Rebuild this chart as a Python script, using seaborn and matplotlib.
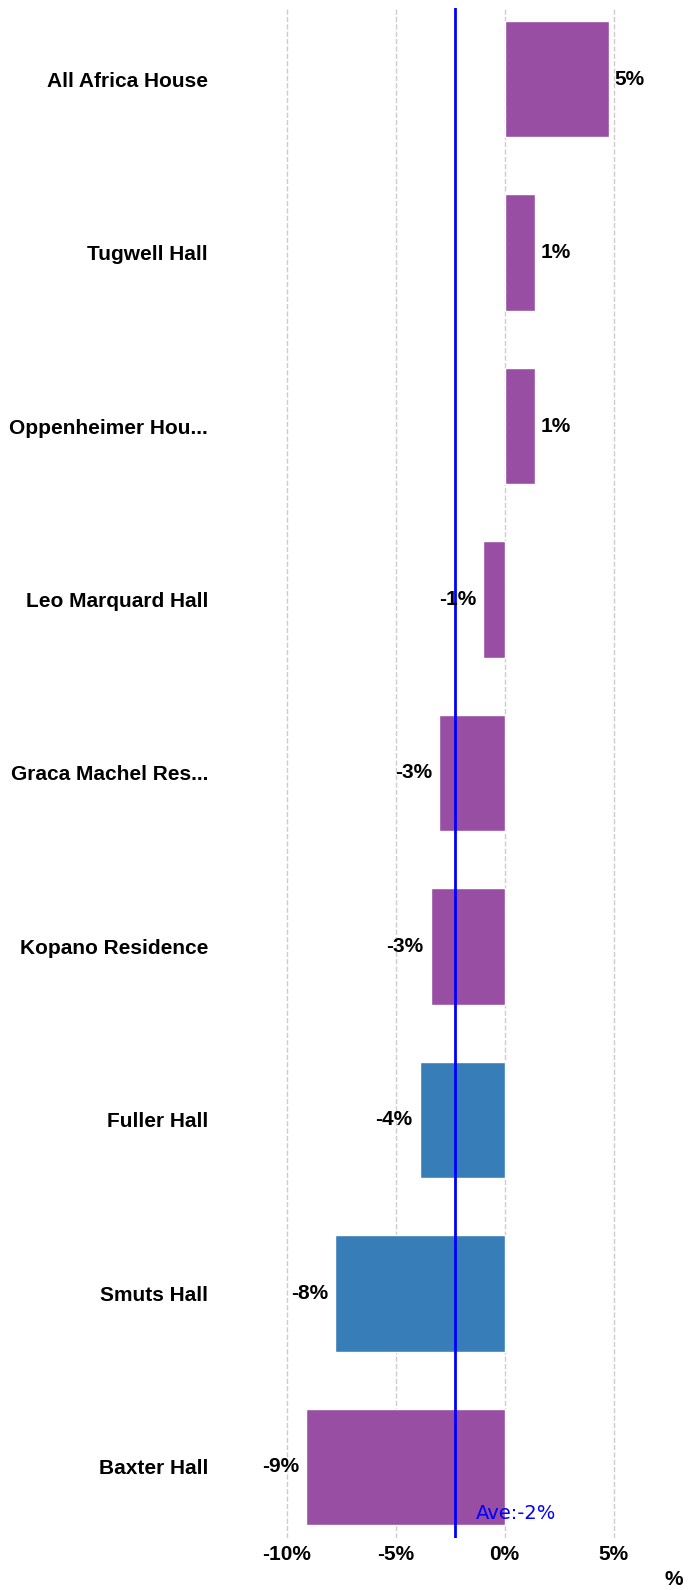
import pandas as pd
import matplotlib.pyplot as plt
import seaborn as sns

residences = ["All Africa House", "Tugwell Hall", "Oppenheimer Hou...", "Leo Marquard Hall",
              "Graca Machel Res...", "Kopano Residence", "Fuller Hall", "Smuts Hall", "Baxter Hall"]
change_pct = [4.8, 1.4, 1.4, -1.0, -3.0, -3.4, -3.9, -7.8, -9.1]
group = ["a", "a", "a", "a", "a", "a", "b", "b", "a"]
colors = {"a": "#984EA3", "b": "#377EB8"}
ticks = [-10, -5, 0, 5]

df = pd.DataFrame({"name": residences, "pct": change_pct, "group": group})
avg = df["pct"].mean()

sns.set_theme(style="white")
plt.rcParams["font.family"] = ["Liberation Sans", "DejaVu Sans"]

fig = plt.figure(figsize=(6.88, 15.9), dpi=100)
ax = fig.add_axes([0.3125, 0.0327, 0.6805, 0.9623])

sns.barplot(data=df, x="pct", y="name", hue="group", palette=colors, dodge=False,
            width=0.67, saturation=1, legend=False, ax=ax, zorder=2)

for i, v in enumerate(df["pct"]):
    off = 4 if v >= 0 else -5
    ax.annotate(f"{v:.0f}%", (v, i), xytext=(off, 0), textcoords="offset points",
                ha="left" if v >= 0 else "right", va="center",
                fontsize=15, fontweight="bold", color="black", zorder=4)

ax.axvline(avg, color="blue", lw=2, zorder=3)
ax.text(avg + 0.95, 8.27, f"Ave:{avg:.0f}%", color="blue", fontsize=14,
        family="DejaVu Sans", ha="left", va="center", zorder=4)

ax.set_xlim(-13.3, 8.2)
ax.set_ylim(8.41, -0.41)
ax.set_xticks(ticks)
ax.set_xticklabels([f"{t}%" for t in ticks], fontsize=15, fontweight="bold", color="black")
ax.grid(axis="x", color="#cccccc", linestyle="--", lw=1, zorder=0)
ax.set_axisbelow(True)
ax.tick_params(axis="x", length=2, color="#ff8c00", pad=3)
ax.tick_params(axis="y", length=0, pad=5)
for lab in ax.get_yticklabels():
    lab.set_fontsize(15)
    lab.set_fontweight("bold")
    lab.set_color("black")
ax.set_ylabel("")
ax.set_xlabel("%", loc="right", fontsize=15, fontweight="bold", color="black", labelpad=4)
sns.despine(ax=ax, left=True, bottom=True)

fig.savefig("out.png", dpi=100)
